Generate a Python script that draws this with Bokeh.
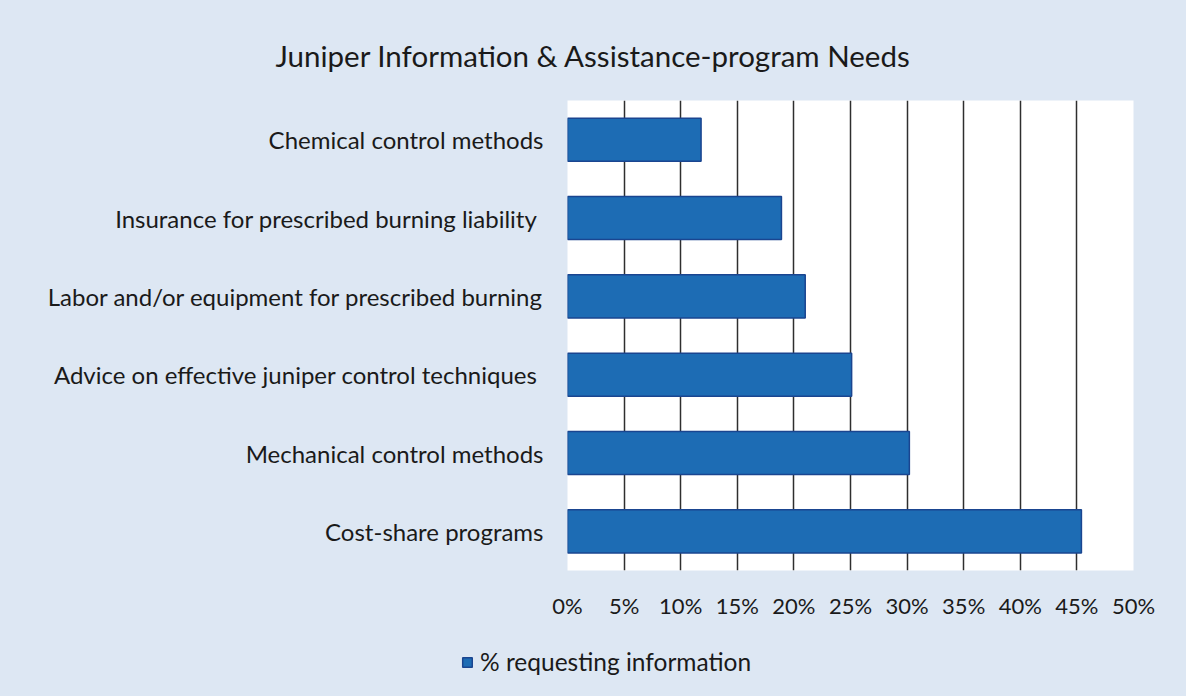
from bokeh.plotting import figure
from bokeh.layouts import column
from bokeh.models import FactorRange, Range1d, Title, Legend, LegendItem, FixedTicker
from bokeh.embed import file_html
from bokeh.resources import INLINE

title_text = "Juniper Information & Assistance-program  Needs"
categories = [
    "Chemical control methods",
    "Insurance for prescribed burning liability ",
    "Labor and/or equipment for prescribed burning",
    "Advice on effective juniper control techniques ",
    "Mechanical control methods",
    "Cost-share programs",
]
values = [11.8, 18.9, 21.0, 25.1, 30.2, 45.4]
series_name = "% requesting information"
tick_values = [0, 5, 10, 15, 20, 25, 30, 35, 40, 45, 50]
tick_labels = ["0%", "5%", "10%", "15%", "20%", "25%", "30%", "35%", "40%", "45%", "50%"]

FONT = "Lato"
BAR = "#1d6cb4"
BAR_LINE = "#1a4590"
TXT = "#1a1a1a"
BG = "#dde7f3"

p = figure(
    width=1186, height=640,
    y_range=FactorRange(*reversed(categories)),
    x_range=Range1d(0, 50),
    output_backend="svg", toolbar_location=None,
    min_border_left=567, min_border_right=53,
    min_border_top=100, min_border_bottom=70,
)
p.border_fill_color = BG
p.background_fill_color = "white"
p.outline_line_color = None

r = p.hbar(y=categories, right=values, left=0, height=0.55,
           fill_color=BAR, line_color=BAR_LINE, line_width=1.5)

p.xaxis.ticker = FixedTicker(ticks=tick_values)
p.xaxis.major_label_overrides = {t: l for t, l in zip(tick_values, tick_labels)}
p.xaxis.axis_line_color = None
p.xaxis.major_tick_line_color = None
p.xaxis.minor_tick_line_color = None
p.xaxis.major_label_standoff = 15
p.xaxis.major_label_text_font = FONT
p.xaxis.major_label_text_font_size = "22px"
p.xaxis.major_label_text_color = TXT

p.yaxis.axis_line_color = None
p.yaxis.major_tick_line_color = None
p.yaxis.major_label_standoff = 18
p.yaxis.major_label_text_font = FONT
p.yaxis.major_label_text_font_size = "24px"
p.yaxis.major_label_text_color = TXT

p.xgrid.grid_line_color = "#2e2e2e"
p.xgrid.grid_line_width = 1.5
p.ygrid.grid_line_color = None

p.title = Title(text=title_text, align="left", offset=-292, standoff=56,
                text_font=FONT, text_font_size="29.5px", text_font_style="normal",
                text_color=TXT)

# legend strip below the chart (same series, hidden renderer supplies the key glyph)
p2 = figure(
    width=1186, height=56,
    y_range=FactorRange(*reversed(categories)),
    x_range=Range1d(0, 50),
    output_backend="svg", toolbar_location=None,
    min_border_left=0, min_border_right=0, min_border_top=0, min_border_bottom=0,
)
if "frame_align" in p2.properties():
    p2.frame_align = False
p2.border_fill_color = BG
p2.background_fill_color = BG
p2.outline_line_color = None
p2.axis.visible = False
p2.grid.visible = False
r2 = p2.hbar(y=categories, right=values, left=0, height=0.55,
             fill_color=BAR, line_color=BAR_LINE, line_width=1.5, visible=False)

legend = Legend(items=[LegendItem(label=series_name, renderers=[r2])],
                location=(461, 20), orientation="horizontal",
                glyph_width=12, glyph_height=12, label_standoff=7,
                padding=0, margin=0, spacing=0,
                border_line_color=None, background_fill_alpha=0,
                inactive_fill_alpha=0, click_policy="none",
                label_text_font=FONT, label_text_font_size="24.5px",
                label_text_color=TXT)
p2.add_layout(legend)

layout = column(p, p2, spacing=0)
layout.styles = {"background-color": BG}
open("out.html", "w").write(file_html(layout, INLINE))
